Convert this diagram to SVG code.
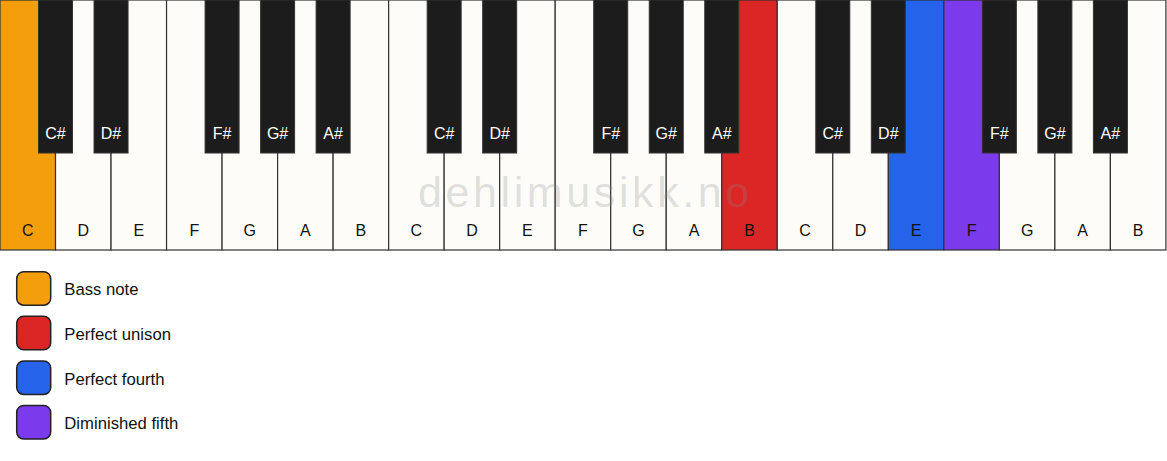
<svg xmlns="http://www.w3.org/2000/svg" width="1167" height="461" viewBox="0 0 1167 461">
<style>
.w{fill:#fdfcf9;stroke:#333;stroke-width:1.2}
.b{fill:#1c1c1c;stroke:#333;stroke-width:1}
.lw{font-family:"Liberation Sans",Arial,sans-serif;font-size:16px;fill:#111;text-anchor:middle}
.lb{font-family:"Liberation Sans",Arial,sans-serif;font-size:16px;fill:#fff;text-anchor:middle}
.lg{stroke:#222;stroke-width:1.5}
.lt{font-family:"Liberation Sans",Arial,sans-serif;font-size:16.7px;fill:#111}
.wm{font-family:"Liberation Sans",Arial,sans-serif;font-size:43px;fill:#888;fill-opacity:0.25;letter-spacing:3.6px}
</style>
<rect width="1167" height="461" fill="#ffffff"/>
<g id="white-keys">
<g id="w0"><rect class="w" x="0" y="0" width="55.52" height="250" style="fill:#f59e0b"/><text class="lw" x="27.76" y="236">C</text></g>
<g id="w1"><rect class="w" x="55.52" y="0" width="55.52" height="250"/><text class="lw" x="83.28" y="236">D</text></g>
<g id="w2"><rect class="w" x="111.04" y="0" width="55.52" height="250"/><text class="lw" x="138.8" y="236">E</text></g>
<g id="w3"><rect class="w" x="166.56" y="0" width="55.52" height="250"/><text class="lw" x="194.32" y="236">F</text></g>
<g id="w4"><rect class="w" x="222.08" y="0" width="55.52" height="250"/><text class="lw" x="249.84" y="236">G</text></g>
<g id="w5"><rect class="w" x="277.6" y="0" width="55.52" height="250"/><text class="lw" x="305.36" y="236">A</text></g>
<g id="w6"><rect class="w" x="333.12" y="0" width="55.52" height="250"/><text class="lw" x="360.88" y="236">B</text></g>
<g id="w7"><rect class="w" x="388.64" y="0" width="55.52" height="250"/><text class="lw" x="416.4" y="236">C</text></g>
<g id="w8"><rect class="w" x="444.16" y="0" width="55.52" height="250"/><text class="lw" x="471.92" y="236">D</text></g>
<g id="w9"><rect class="w" x="499.68" y="0" width="55.52" height="250"/><text class="lw" x="527.44" y="236">E</text></g>
<g id="w10"><rect class="w" x="555.2" y="0" width="55.52" height="250"/><text class="lw" x="582.96" y="236">F</text></g>
<g id="w11"><rect class="w" x="610.72" y="0" width="55.52" height="250"/><text class="lw" x="638.48" y="236">G</text></g>
<g id="w12"><rect class="w" x="666.24" y="0" width="55.52" height="250"/><text class="lw" x="694" y="236">A</text></g>
<g id="w13"><rect class="w" x="721.76" y="0" width="55.52" height="250" style="fill:#dc2626"/><text class="lw" x="749.52" y="236">B</text></g>
<g id="w14"><rect class="w" x="777.28" y="0" width="55.52" height="250"/><text class="lw" x="805.04" y="236">C</text></g>
<g id="w15"><rect class="w" x="832.8" y="0" width="55.52" height="250"/><text class="lw" x="860.56" y="236">D</text></g>
<g id="w16"><rect class="w" x="888.32" y="0" width="55.52" height="250" style="fill:#2563eb"/><text class="lw" x="916.08" y="236">E</text></g>
<g id="w17"><rect class="w" x="943.84" y="0" width="55.52" height="250" style="fill:#7c3aed"/><text class="lw" x="971.6" y="236">F</text></g>
<g id="w18"><rect class="w" x="999.36" y="0" width="55.52" height="250"/><text class="lw" x="1027.12" y="236">G</text></g>
<g id="w19"><rect class="w" x="1054.88" y="0" width="55.52" height="250"/><text class="lw" x="1082.64" y="236">A</text></g>
<g id="w20"><rect class="w" x="1110.4" y="0" width="55.52" height="250"/><text class="lw" x="1138.16" y="236">B</text></g>
</g>
<text id="watermark" class="wm" x="418" y="207">dehlimusikk.no</text>
<g id="black-keys">
<g id="b1"><rect class="b" x="38.52" y="0" width="34" height="153"/><text class="lb" x="55.52" y="139">C#</text></g>
<g id="b2"><rect class="b" x="94.04" y="0" width="34" height="153"/><text class="lb" x="111.04" y="139">D#</text></g>
<g id="b4"><rect class="b" x="205.08" y="0" width="34" height="153"/><text class="lb" x="222.08" y="139">F#</text></g>
<g id="b5"><rect class="b" x="260.6" y="0" width="34" height="153"/><text class="lb" x="277.6" y="139">G#</text></g>
<g id="b6"><rect class="b" x="316.12" y="0" width="34" height="153"/><text class="lb" x="333.12" y="139">A#</text></g>
<g id="b8"><rect class="b" x="427.16" y="0" width="34" height="153"/><text class="lb" x="444.16" y="139">C#</text></g>
<g id="b9"><rect class="b" x="482.68" y="0" width="34" height="153"/><text class="lb" x="499.68" y="139">D#</text></g>
<g id="b11"><rect class="b" x="593.72" y="0" width="34" height="153"/><text class="lb" x="610.72" y="139">F#</text></g>
<g id="b12"><rect class="b" x="649.24" y="0" width="34" height="153"/><text class="lb" x="666.24" y="139">G#</text></g>
<g id="b13"><rect class="b" x="704.76" y="0" width="34" height="153"/><text class="lb" x="721.76" y="139">A#</text></g>
<g id="b15"><rect class="b" x="815.8" y="0" width="34" height="153"/><text class="lb" x="832.8" y="139">C#</text></g>
<g id="b16"><rect class="b" x="871.32" y="0" width="34" height="153"/><text class="lb" x="888.32" y="139">D#</text></g>
<g id="b18"><rect class="b" x="982.36" y="0" width="34" height="153"/><text class="lb" x="999.36" y="139">F#</text></g>
<g id="b19"><rect class="b" x="1037.88" y="0" width="34" height="153"/><text class="lb" x="1054.88" y="139">G#</text></g>
<g id="b20"><rect class="b" x="1093.4" y="0" width="34" height="153"/><text class="lb" x="1110.4" y="139">A#</text></g>
</g>
<g id="legend">
<g id="leg-bass"><rect class="lg" x="16.7" y="271.7" width="34" height="33.5" rx="7" fill="#f59e0b"/><text class="lt" x="64.3" y="295.3">Bass note</text></g>
<g id="leg-unison"><rect class="lg" x="16.7" y="316.3" width="34" height="33.5" rx="7" fill="#dc2626"/><text class="lt" x="64.3" y="339.9">Perfect unison</text></g>
<g id="leg-fourth"><rect class="lg" x="16.7" y="360.9" width="34" height="33.5" rx="7" fill="#2563eb"/><text class="lt" x="64.3" y="384.5">Perfect fourth</text></g>
<g id="leg-dim5"><rect class="lg" x="16.7" y="405.5" width="34" height="33.5" rx="7" fill="#7c3aed"/><text class="lt" x="64.3" y="429.1">Diminished fifth</text></g>
</g>
</svg>
